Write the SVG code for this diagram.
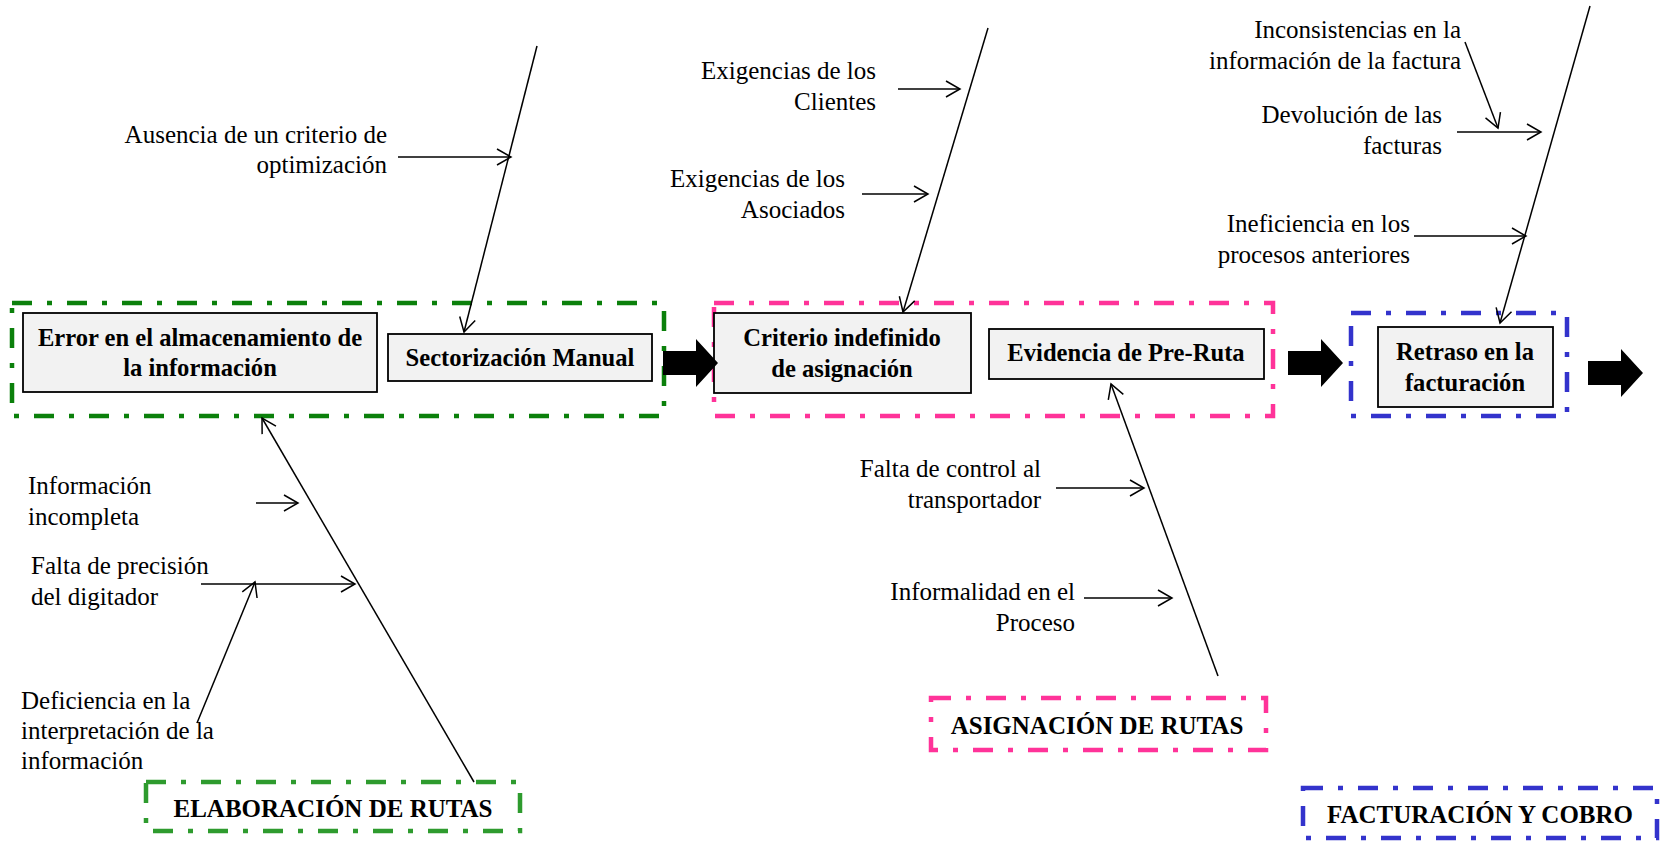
<svg xmlns="http://www.w3.org/2000/svg" width="1664" height="841" viewBox="0 0 1664 841">
  <style>
    .t { font-family: "Liberation Serif", "Times New Roman", serif; font-size: 25px; fill: #000; }
    .b { font-weight: bold; font-size: 24.6px; }
    .lb { font-weight: bold; font-size: 25px; }
    .box { fill: #f2f2f2; stroke: #000; stroke-width: 1.8; }
    .frame { fill: none; stroke-width: 4.5; stroke-dasharray: 20 15 5 15; }
    .green { stroke: #0b800b; }
    .green2 { stroke: #2e9b2e; }
    .pink { stroke: #ff3399; }
    .blue { stroke: #3333cc; }
    .ln { stroke: #000; stroke-width: 1.5; fill: none; marker-end: url(#open); }
    .big { fill: #000; }
  </style>
  <defs>
    <marker id="open" markerUnits="userSpaceOnUse" markerWidth="18" markerHeight="20" refX="15" refY="9" orient="auto" viewBox="0 0 18 20">
      <path d="M1,1 L15,9 L1,17" fill="none" stroke="#000" stroke-width="1.5"/>
    </marker>
    <polygon id="fat" points="0,12 33,12 33,0 55,24 33,48 33,36 0,36"/>
  </defs>
  <rect width="1664" height="841" fill="#fff"/>

  <!-- process stage frames -->
  <g id="stage-elaboracion">
    <rect class="frame green" x="12" y="303" width="652" height="113"/>
  </g>
  <g id="stage-asignacion">
    <rect class="frame pink" x="714" y="303" width="559" height="113"/>
  </g>
  <g id="stage-facturacion">
    <rect class="frame blue" x="1351" y="313" width="216" height="103"/>
  </g>

  <!-- effect boxes -->
  <g id="n-error">
    <rect class="box" x="23" y="313" width="354" height="79"/>
    <text class="t b" x="200" y="346" text-anchor="middle">Error en el almacenamiento de</text>
    <text class="t b" x="200" y="376" text-anchor="middle">la información</text>
  </g>
  <g id="n-sectorizacion">
    <rect class="box" x="388" y="334" width="264" height="47"/>
    <text class="t b" x="520" y="366" text-anchor="middle">Sectorización Manual</text>
  </g>
  <g id="n-criterio">
    <rect class="box" x="714" y="313" width="257" height="80"/>
    <text class="t b" x="842" y="346" text-anchor="middle">Criterio indefinido</text>
    <text class="t b" x="842" y="377" text-anchor="middle">de asignación</text>
  </g>
  <g id="n-evidencia">
    <rect class="box" x="989" y="329" width="275" height="50"/>
    <text class="t b" x="1126" y="361" text-anchor="middle">Evidencia de Pre-Ruta</text>
  </g>
  <g id="n-retraso">
    <rect class="box" x="1378" y="327" width="175" height="80"/>
    <text class="t b" x="1465" y="360" text-anchor="middle">Retraso en la</text>
    <text class="t b" x="1465" y="391" text-anchor="middle">facturación</text>
  </g>

  <!-- stage labels -->
  <g id="lbl-elaboracion">
    <rect class="frame green2" x="146" y="782" width="374" height="49"/>
    <text class="t lb" x="333" y="817" text-anchor="middle">ELABORACIÓN DE RUTAS</text>
  </g>
  <g id="lbl-asignacion">
    <rect class="frame pink" x="931" y="698" width="335" height="52"/>
    <text class="t lb" x="1097" y="734" text-anchor="middle">ASIGNACIÓN DE RUTAS</text>
  </g>
  <g id="lbl-facturacion">
    <rect class="frame blue" x="1303" y="788" width="354" height="50"/>
    <text class="t lb" x="1480" y="823" text-anchor="middle">FACTURACIÓN Y COBRO</text>
  </g>

  <!-- cause labels -->
  <g id="c-ausencia">
    <text class="t" x="387" y="143" text-anchor="end">Ausencia de un criterio de</text>
    <text class="t" x="387" y="173" text-anchor="end">optimización</text>
  </g>
  <g id="c-clientes">
    <text class="t" x="876" y="79" text-anchor="end">Exigencias de los</text>
    <text class="t" x="876" y="110" text-anchor="end">Clientes</text>
  </g>
  <g id="c-asociados">
    <text class="t" x="845" y="187" text-anchor="end">Exigencias de los</text>
    <text class="t" x="845" y="218" text-anchor="end">Asociados</text>
  </g>
  <g id="c-inconsistencias">
    <text class="t" x="1461" y="38" text-anchor="end">Inconsistencias en la</text>
    <text class="t" x="1461" y="69" text-anchor="end">información de la factura</text>
  </g>
  <g id="c-devolucion">
    <text class="t" x="1442" y="123" text-anchor="end">Devolución de las</text>
    <text class="t" x="1442" y="154" text-anchor="end">facturas</text>
  </g>
  <g id="c-ineficiencia">
    <text class="t" x="1410" y="232" text-anchor="end">Ineficiencia en los</text>
    <text class="t" x="1410" y="263" text-anchor="end">procesos anteriores</text>
  </g>
  <g id="c-incompleta">
    <text class="t" x="28" y="494">Información</text>
    <text class="t" x="28" y="525">incompleta</text>
  </g>
  <g id="c-precision">
    <text class="t" x="31" y="574">Falta de precisión</text>
    <text class="t" x="31" y="605">del digitador</text>
  </g>
  <g id="c-deficiencia">
    <text class="t" x="21" y="709">Deficiencia en la</text>
    <text class="t" x="21" y="739">interpretación de la</text>
    <text class="t" x="21" y="769">información</text>
  </g>
  <g id="c-control">
    <text class="t" x="1041" y="477" text-anchor="end">Falta de control al</text>
    <text class="t" x="1041" y="508" text-anchor="end">transportador</text>
  </g>
  <g id="c-informalidad">
    <text class="t" x="1075" y="600" text-anchor="end">Informalidad en el</text>
    <text class="t" x="1075" y="631" text-anchor="end">Proceso</text>
  </g>

  <!-- connectors -->
  <g id="connectors">
    <!-- flow arrows between stages -->
    <use href="#fat" class="big" x="663" y="339"/>
    <use href="#fat" class="big" x="1288" y="339"/>
    <use href="#fat" class="big" x="1588" y="349"/>

    <!-- spines -->
    <line class="ln" x1="537" y1="46" x2="464" y2="332"/>
    <line class="ln" x1="988" y1="28" x2="903" y2="312"/>
    <line class="ln" x1="1590" y1="6" x2="1500" y2="323"/>
    <line class="ln" x1="474" y1="782" x2="262" y2="418"/>
    <line class="ln" x1="1218" y1="676" x2="1111" y2="384"/>

    <!-- cause arrows -->
    <line class="ln" x1="398" y1="157" x2="511" y2="157"/>
    <line class="ln" x1="898" y1="89" x2="960" y2="89"/>
    <line class="ln" x1="862" y1="194" x2="928" y2="194"/>
    <line class="ln" x1="1465" y1="42" x2="1498" y2="128"/>
    <line class="ln" x1="1457" y1="132" x2="1541" y2="132"/>
    <line class="ln" x1="1414" y1="236" x2="1526" y2="236"/>
    <line class="ln" x1="256" y1="503" x2="298" y2="503"/>
    <line class="ln" x1="201" y1="584" x2="355" y2="584"/>
    <line class="ln" x1="197" y1="723" x2="255" y2="582"/>
    <line class="ln" x1="1056" y1="488" x2="1144" y2="488"/>
    <line class="ln" x1="1084" y1="598" x2="1172" y2="598"/>
  </g>
</svg>
